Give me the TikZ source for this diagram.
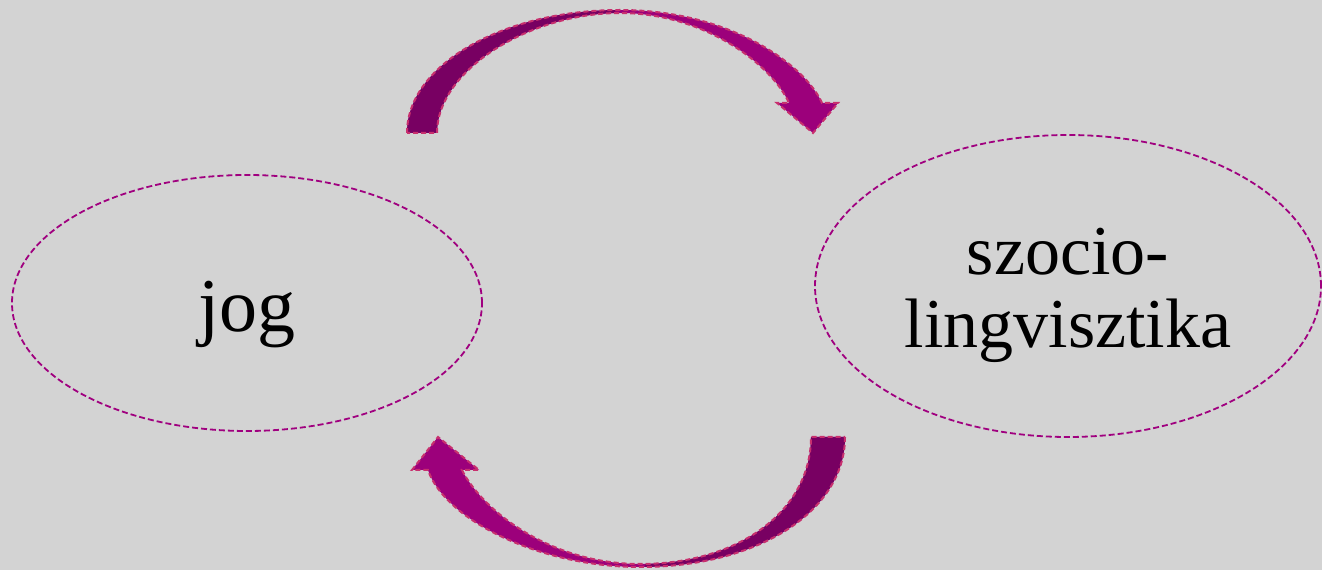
\documentclass[tikz,border=0pt]{standalone}
\usepackage{fontspec}
\setmainfont{Liberation Serif}
\usetikzlibrary{shapes.geometric}
\definecolor{bggray}{HTML}{D3D3D3}
\definecolor{plumdark}{HTML}{780062}
\definecolor{plumlight}{HTML}{9C007B}
\definecolor{rimpink}{HTML}{C8306E}
\definecolor{ringmag}{HTML}{A0007F}
\tikzset{topic/.style={ellipse,draw=ringmag,line width=1.8pt,dash pattern=on 6pt off 3pt,inner sep=0pt},
 topictext/.style={align=center,font=\fontsize{70}{73}\selectfont},
 bendrim/.style={draw=rimpink,line width=2pt,dash pattern=on 5pt off 3pt}}
% curved arrow outlines
\newcommand{\toparrow}{(407,437) .. controls (407,505) and (503,560) .. (620,560)
 .. controls (730,560) and (805,505) .. (822,467) -- (838,467) -- (813,437) -- (777,467) -- (789,467)
 .. controls (772,505) and (705,557) .. (620,557) .. controls (530,557) and (437,500) .. (437,437) -- cycle}
\newcommand{\bottomarrow}{(845,133) .. controls (845,60) and (760,3) .. (640,3)
 .. controls (540,3) and (445,50) .. (428,100) -- (412,100) -- (438,133) -- (479,100) -- (462,100)
 .. controls (482,60) and (550,6) .. (640,6) .. controls (740,6) and (811,60) .. (811,133) -- cycle}

\begin{document}
\begin{tikzpicture}[x=1pt,y=1pt]
\fill[bggray] (0,0) rectangle (1322,570);
\useasboundingbox (0,0) rectangle (1322,570);

\node[topic,minimum width=470pt,minimum height=256pt] (jog) at (247,267) {};
\node[topic,minimum width=506pt,minimum height=302pt] (szocio) at (1068,284) {};
\node[topictext,font=\fontsize{76}{73}\selectfont] (jogtext) at ([yshift=-12pt]jog.center) {jog};
\node[topictext] (szociotext) at ([yshift=-9pt]szocio.center) {szocio-\\lingvisztika};

\fill[plumlight] \toparrow;
\begin{scope}
 \clip (0,0) rectangle (615,570);
 \fill[plumdark] \toparrow;
\end{scope}
\draw[bendrim] \toparrow;

\fill[plumlight] \bottomarrow;
\begin{scope}
 \clip (645,0) rectangle (1322,570);
 \fill[plumdark] \bottomarrow;
\end{scope}
\draw[bendrim] \bottomarrow;
\end{tikzpicture}
\end{document}
